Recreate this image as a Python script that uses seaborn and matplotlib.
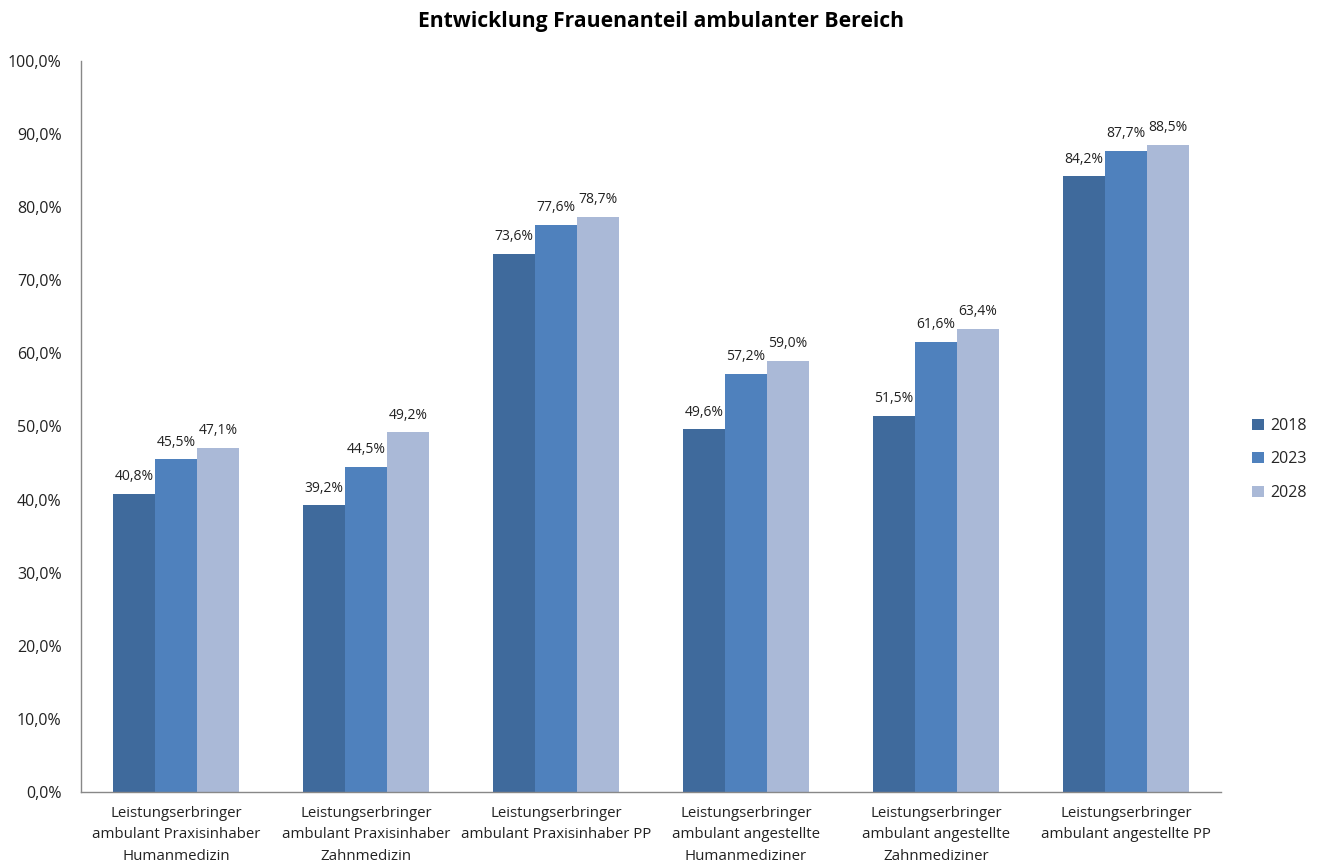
import matplotlib
matplotlib.use("Agg")
import matplotlib.pyplot as plt
import seaborn as sns
import pandas as pd
from matplotlib.ticker import FuncFormatter

categories = [
    "Leistungserbringer\nambulant Praxisinhaber\nHumanmedizin",
    "Leistungserbringer\nambulant Praxisinhaber\nZahnmedizin",
    "Leistungserbringer\nambulant Praxisinhaber PP",
    "Leistungserbringer\nambulant angestellte\nHumanmediziner",
    "Leistungserbringer\nambulant angestellte\nZahnmediziner",
    "Leistungserbringer\nambulant angestellte PP",
]
years = ["2018", "2023", "2028"]
v2018 = [40.8, 39.2, 73.6, 49.6, 51.5, 84.2]
v2023 = [45.5, 44.5, 77.6, 57.2, 61.6, 87.7]
v2028 = [47.1, 49.2, 78.7, 59.0, 63.4, 88.5]
colors = ["#3F6A9C", "#4F81BD", "#AAB9D7"]

rows = []
for y, vals in zip(years, [v2018, v2023, v2028]):
    for c, v in zip(categories, vals):
        rows.append({"cat": c, "year": y, "val": v})
df = pd.DataFrame(rows)

sns.set_theme(style="white")
plt.rcParams['font.family'] = ['Open Sans', 'DejaVu Sans']

fig = plt.figure(figsize=(13.21, 8.67), dpi=100)
ax = fig.add_axes([81/1321, 75/867, 1140/1321, 731/867])
sns.barplot(data=df, x="cat", y="val", hue="year", palette=colors,
            width=0.665, saturation=1, ax=ax, errorbar=None, linewidth=0)

for cont in ax.containers:
    ax.bar_label(cont, labels=[f"{v:.1f}%".replace(".", ",") for v in cont.datavalues],
                 padding=7, fontsize=10, color="#222222")

ax.set_ylim(0, 100)
ax.set_xlim(-0.5, 5.5)
ax.set_yticks(range(0, 101, 10))
ax.yaxis.set_major_formatter(FuncFormatter(lambda v, p: f"{v:.1f}%".replace(".", ",")))
ax.tick_params(axis="y", labelsize=11.5, length=0, pad=14, colors="#222222")
ax.tick_params(axis="x", labelsize=10.8, length=0, pad=10, colors="#222222")
for lab in ax.get_xticklabels():
    lab.set_linespacing(1.6)
ax.set_xlabel("")
ax.set_ylabel("")
for s in ["top", "right"]:
    ax.spines[s].set_visible(False)
for s in ["left", "bottom"]:
    ax.spines[s].set_color("#888888")
    ax.spines[s].set_linewidth(1.0)

fig.suptitle("Entwicklung Frauenanteil ambulanter Bereich", x=0.5, y=0.987,
             fontsize=15.2, fontweight="bold", color="black")

leg = ax.legend(loc="center left", bbox_to_anchor=(1.015, 0.455), frameon=False,
                fontsize=11.5, handlelength=0.7, handleheight=0.7,
                labelspacing=1.1, handletextpad=0.4)

fig.savefig("out.png", dpi=100)
